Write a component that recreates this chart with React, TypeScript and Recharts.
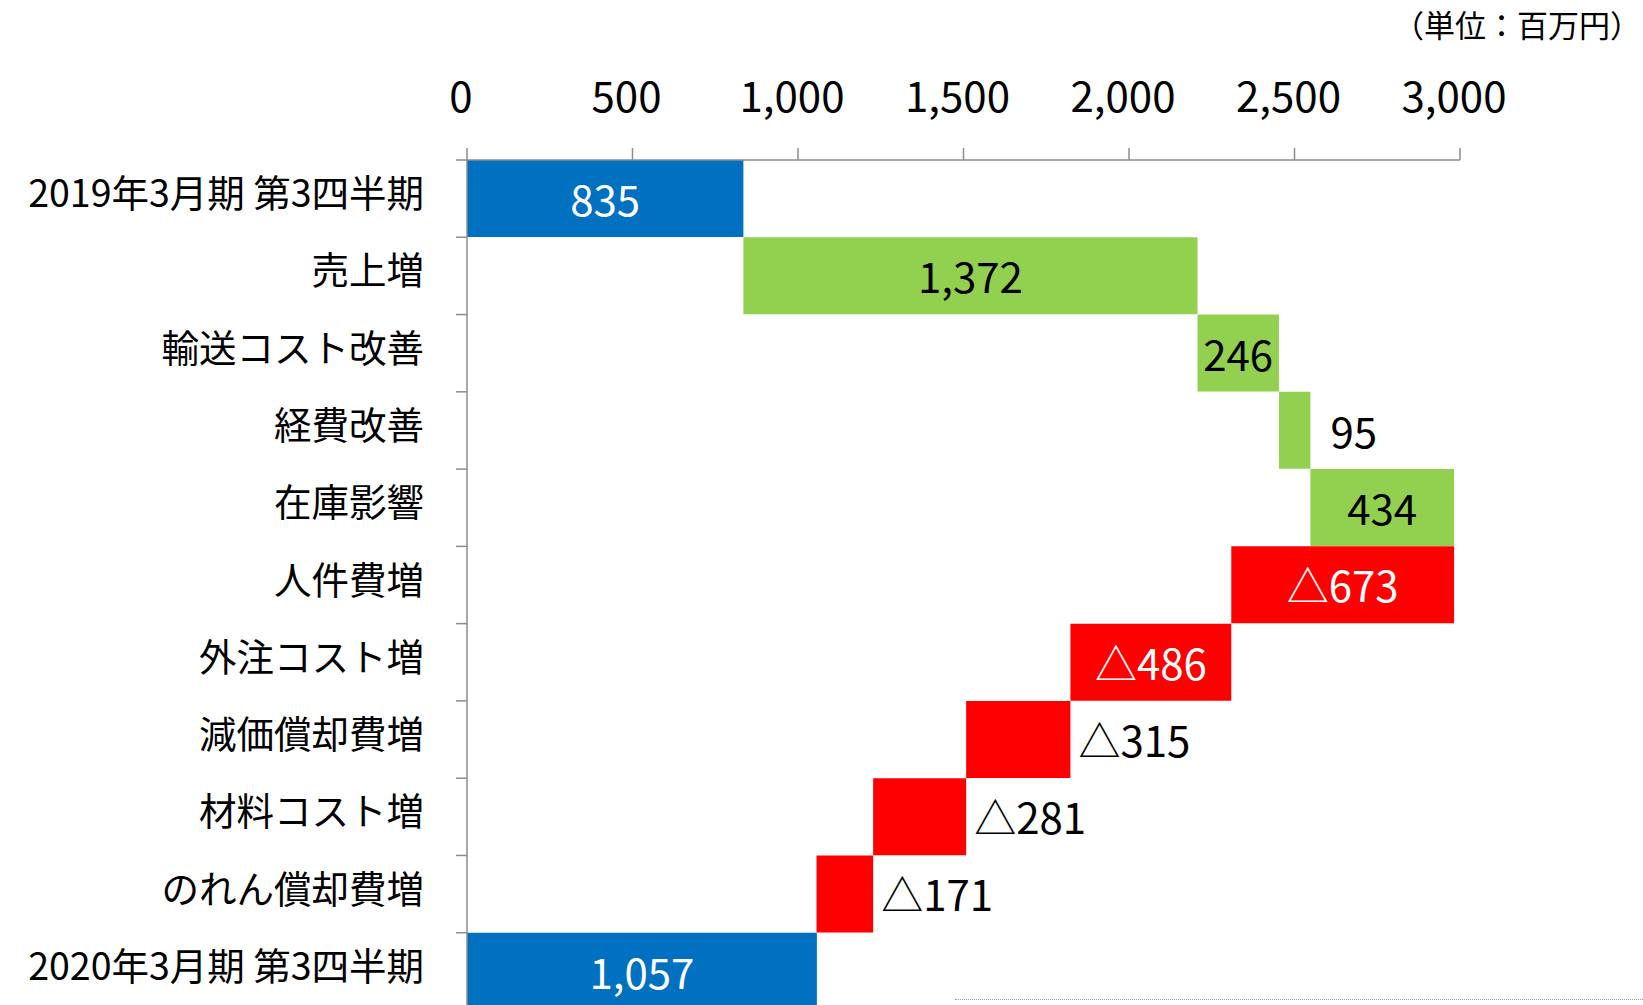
import { BarChart, Bar, XAxis, YAxis, Cell, LabelList } from 'recharts';

const categories = [
  '2019年3月期 第3四半期',
  '売上増',
  '輸送コスト改善',
  '経費改善',
  '在庫影響',
  '人件費増',
  '外注コスト増',
  '減価償却費増',
  '材料コスト増',
  'のれん償却費増',
  '2020年3月期 第3四半期',
];
const changes = [835, 1372, 246, 95, 434, -673, -486, -315, -281, -171, 1057];
const kinds = ['total', 'up', 'up', 'up', 'up', 'down', 'down', 'down', 'down', 'down', 'total'];
const labelInside = [true, true, true, false, true, true, true, false, false, false, true];
const xTicks = [0, 500, 1000, 1500, 2000, 2500, 3000];

const COLORS: Record<string, string> = { total: '#0070C0', up: '#92D050', down: '#FF0000' };
const FONT = '"Noto Sans CJK JP", "Noto Sans", sans-serif';
const AXIS_COLOR = '#8C8C8C';
const AXIS_X = 467;
const TOP = 160;
const HEIGHT = 1010;
const ROW = (HEIGHT - TOP) / categories.length;

let running = 0;
const rows = categories.map((name, i) => {
  const v = changes[i];
  let base = 0;
  if (kinds[i] === 'total') {
    running = v;
  } else if (v >= 0) {
    base = running;
    running += v;
  } else {
    running += v;
    base = running;
  }
  return { name, base, size: Math.abs(v), i };
});

const fmt = (n: number) => n.toLocaleString('en-US');
const labelText = (v: number) => (v < 0 ? '△' + fmt(-v) : fmt(v));

function renderLabel(props: any) {
  const x = Number(props.x);
  const y = Number(props.y);
  const width = Number(props.width);
  const height = Number(props.height);
  const i = Number(props.value);
  const inside = labelInside[i];
  const kind = kinds[i];
  const color = inside && kind !== 'up' ? '#FFFFFF' : '#000000';
  const gap = kind === 'up' ? 20 : 8;
  return (
    <text
      x={inside ? x + width / 2 : x + width + gap}
      y={y + height / 2 - 1}
      textAnchor={inside ? 'middle' : 'start'}
      dominantBaseline="central"
      fill={color}
      fontSize={42}
      fontFamily={FONT}
    >
      {labelText(changes[i])}
    </text>
  );
}

function CategoryTick(props: any) {
  const { y, payload } = props;
  return (
    <g>
      <line x1={AXIS_X - 11} x2={AXIS_X} y1={y - ROW / 2} y2={y - ROW / 2} stroke={AXIS_COLOR} strokeWidth={1.5} />
      <text
        x={AXIS_X - 43}
        y={y - 8}
        textAnchor="end"
        dominantBaseline="central"
        fill="#000"
        fontSize={37.5}
        fontFamily={FONT}
      >
        {payload.value}
      </text>
    </g>
  );
}

function ValueTick(props: any) {
  const { x, payload } = props;
  return (
    <text x={x - 6} y={93} textAnchor="middle" dominantBaseline="central" fill="#000" fontSize={42} fontFamily={FONT}>
      {fmt(payload.value)}
    </text>
  );
}

export default function App() {
  return (
    <div
      style={{
        position: 'absolute',
        left: 0,
        top: 0,
        width: 1643,
        height: 1005,
        overflow: 'hidden',
        background: '#fff',
        fontFamily: FONT,
      }}
    >
      <div style={{ position: 'absolute', right: 2, top: 4, fontSize: 31, lineHeight: '40px', color: '#000' }}>
        （単位：百万円）
      </div>
      <BarChart
        width={1643}
        height={HEIGHT}
        data={rows}
        layout="vertical"
        barCategoryGap={0}
        margin={{ top: 0, right: 183, bottom: 0, left: 0 }}
      >
        <XAxis
          type="number"
          orientation="top"
          domain={[0, 3000]}
          ticks={xTicks}
          interval={0}
          height={TOP}
          tickSize={12}
          stroke={AXIS_COLOR}
          strokeWidth={1.5}
          tick={<ValueTick />}
        />
        <YAxis
          type="category"
          dataKey="name"
          width={AXIS_X}
          interval={0}
          tickLine={false}
          stroke={AXIS_COLOR}
          strokeWidth={1.5}
          tick={<CategoryTick />}
        />
        <Bar dataKey="base" stackId="a" fill="transparent" isAnimationActive={false} />
        <Bar dataKey="size" stackId="a" isAnimationActive={false}>
          {rows.map((r) => (
            <Cell key={r.i} fill={COLORS[kinds[r.i]]} />
          ))}
          <LabelList dataKey="i" content={renderLabel} />
        </Bar>
      </BarChart>
      <div
        style={{
          position: 'absolute',
          left: 955,
          top: 999,
          width: 688,
          borderTop: '1.5px dotted #A0A0A0',
        }}
      />
    </div>
  );
}
